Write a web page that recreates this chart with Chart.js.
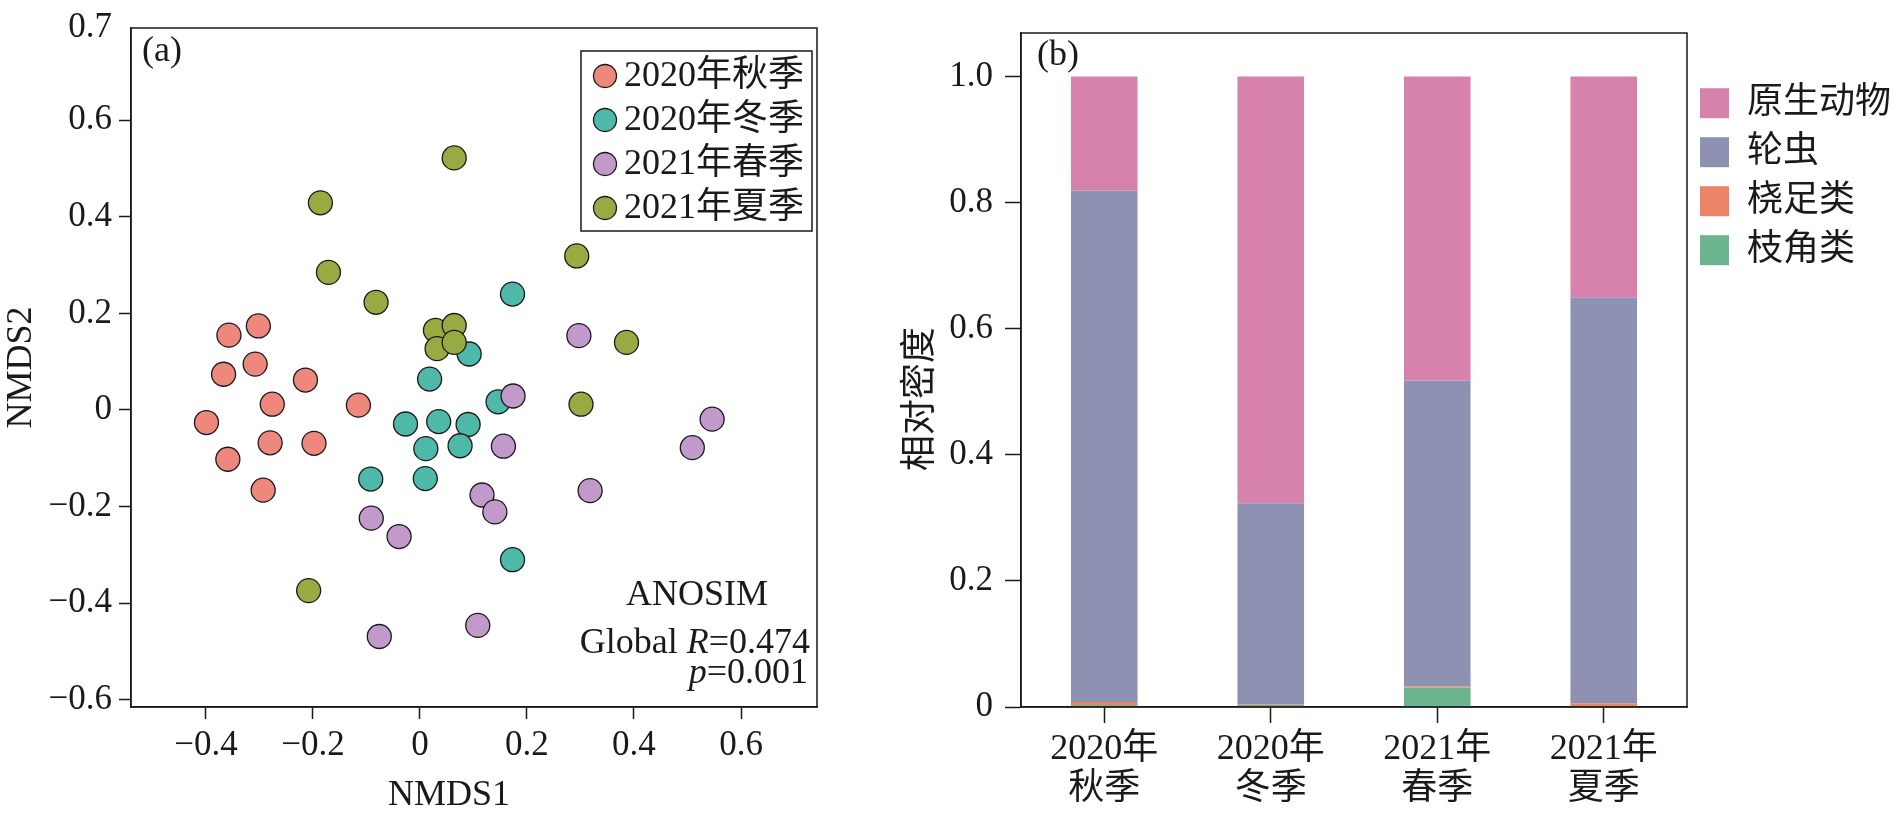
<!DOCTYPE html>
<html>
<head>
<meta charset="utf-8">
<script src="https://cdn.jsdelivr.net/npm/chart.js@4.4.1/dist/chart.umd.min.js"></script>
<style>
  html, body { margin: 0; padding: 0; background: #fff; }
  #wrap { position: relative; width: 1896px; height: 818px; }
  #left { position: absolute; left: 0; top: 0; }
  #right { position: absolute; left: 880px; top: 0; }
</style>
</head>
<body>
<div id="wrap">
  <canvas id="left" width="880" height="818"></canvas>
  <canvas id="right" width="1016" height="818"></canvas>
</div>
<script>
// ---- (a) NMDS scores, one pair of arrays per season ----
const seasons = ['2020年秋季', '2020年冬季', '2021年春季', '2021年夏季']
const seasonColors = ['#EE877C', '#4EB8A9', '#C19ACB', '#98AB42']

const autumn20X = [-0.357, -0.302, -0.367, -0.308, -0.214, -0.276, -0.115, -0.399, -0.359, -0.280, -0.198, -0.293]
const autumn20Y = [0.155, 0.174, 0.074, 0.095, 0.062, 0.012, 0.010, -0.026, -0.102, -0.068, -0.069, -0.166]
const winter20X = [0.173, 0.092, 0.018, 0.146, -0.027, 0.035, 0.090, 0.011, 0.075, -0.092, 0.010, 0.173]
const winter20Y = [0.240, 0.116, 0.064, 0.017, -0.029, -0.024, -0.030, -0.080, -0.074, -0.143, -0.142, -0.310]
const spring21X = [0.297, 0.174, 0.546, 0.509, 0.156, 0.318, 0.116, 0.140, -0.091, -0.039, 0.108, -0.076]
const spring21Y = [0.154, 0.029, -0.019, -0.078, -0.075, -0.167, -0.176, -0.211, -0.224, -0.262, -0.446, -0.469]
const summer21X = [0.064, -0.186, -0.171, -0.082, 0.293, 0.029, 0.064, 0.032, 0.064, 0.386, 0.301, -0.208]
const summer21Y = [0.522, 0.429, 0.285, 0.223, 0.319, 0.165, 0.175, 0.127, 0.140, 0.140, 0.012, -0.374]

const nmdsXTicks = [-0.4, -0.2, 0, 0.2, 0.4, 0.6]
const nmdsYTicks = [-0.6, -0.4, -0.2, 0, 0.2, 0.4, 0.6]
const nmdsYTopLabel = '0.7'
const nmdsXMin = -0.54, nmdsXMax = 0.742
const nmdsYMin = -0.615, nmdsYMax = 0.791

// ---- (b) relative density, stacked bottom -> top ----
const barCategories = [['2020年', '秋季'], ['2020年', '冬季'], ['2021年', '春季'], ['2021年', '夏季']]
const groupNames = ['枝角类', '桡足类', '轮虫', '原生动物']
const groupColors = ['#6CB48E', '#EC8568', '#8E91B2', '#D781AD']
const cladocera = [0.003, 0.003, 0.031, 0.001]
const copepoda = [0.005, 0.001, 0.002, 0.005]
const rotifera = [0.811, 0.319, 0.485, 0.643]
const protozoa = [0.181, 0.677, 0.482, 0.351]
const densityTicks = [0, 0.2, 0.4, 0.6, 0.8, 1.0]

const serif = "'Liberation Serif', 'Noto Sans CJK SC', serif"
const hei = "'Noto Sans CJK SC', sans-serif"
const ink = '#1a1a1a'

Chart.defaults.font.family = serif
Chart.defaults.color = ink

const signed = (v) => v === 0 ? '0' : (v < 0 ? '\u2212' : '') + Math.abs(v).toFixed(1)
const zip = (xs, ys) => xs.map((x, i) => ({ x: x, y: ys[i] }))

const frame = {
    id: 'frame',
    afterDraw(chart) {
        const { ctx, chartArea: a } = chart
        ctx.save()
        ctx.strokeStyle = ink
        ctx.lineWidth = 1.5
        ctx.strokeRect(a.left, a.top, a.right - a.left, a.bottom - a.top)
        ctx.restore()
    }
}

// draws pieces of text (some italic) ending at x
const drawRuns = (ctx, runs, rightX, y, size) => {
    let w = 0
    runs.forEach(r => {
        ctx.font = `${r[1] ? 'italic ' : ''}${size}px ${serif}`
        w += ctx.measureText(r[0]).width
    })
    let x = rightX - w
    runs.forEach(r => {
        ctx.font = `${r[1] ? 'italic ' : ''}${size}px ${serif}`
        ctx.fillText(r[0], x, y)
        x += ctx.measureText(r[0]).width
    })
}

const nmdsNotes = {
    id: 'nmdsNotes',
    afterDraw(chart) {
        const { ctx, chartArea: a } = chart
        ctx.save()
        ctx.fillStyle = ink
        ctx.textBaseline = 'alphabetic'
        ctx.font = `36px ${serif}`
        ctx.fillText('(a)', a.left + 11, 61)

        ctx.textAlign = 'center'
        ctx.fillText('ANOSIM', a.right - 120, 605)
        ctx.textBaseline = 'middle'
        ctx.fillText('NMDS1', 449, 796)
        ctx.textBaseline = 'alphabetic'
        ctx.textAlign = 'left'
        drawRuns(ctx, [['Global ', false], ['R', true], ['=0.474', false]], a.right - 7, 653, 36)
        drawRuns(ctx, [['p', true], ['=0.001', false]], a.right - 9, 683, 36)

        // legend box
        const bx = a.right - 236, by = a.top + 23
        ctx.fillStyle = '#fff'
        ctx.fillRect(bx, by, 231, 180)
        ctx.strokeStyle = ink
        ctx.lineWidth = 1.5
        ctx.strokeRect(bx, by, 231, 180)
        ctx.textBaseline = 'middle'
        ctx.font = `36px ${serif}`
        chart.data.datasets.forEach((ds, i) => {
            const cy = by + 25 + i * 44
            ctx.beginPath()
            ctx.arc(bx + 24, cy, 11.5, 0, Math.PI * 2)
            ctx.fillStyle = ds.backgroundColor
            ctx.fill()
            ctx.lineWidth = 1.3
            ctx.strokeStyle = ink
            ctx.stroke()
            ctx.fillStyle = ink
            ctx.fillText(ds.label, bx + 43, cy + 1)
        })
        ctx.restore()
    }
}

const barNotes = {
    id: 'barNotes',
    afterDraw(chart) {
        const { ctx, chartArea: a } = chart
        ctx.save()
        ctx.fillStyle = ink
        ctx.font = `36px ${serif}`
        ctx.fillText('(b)', a.left + 16, 65)
        // y axis title, sits a little below the middle like the original
        ctx.translate(37, 399)
        ctx.rotate(-Math.PI / 2)
        ctx.font = `36px ${hei}`
        ctx.textAlign = 'center'
        ctx.textBaseline = 'middle'
        ctx.fillText('相对密度', 0, 0)
        ctx.restore()
    }
}

const pointsX = [autumn20X, winter20X, spring21X, summer21X]
const pointsY = [autumn20Y, winter20Y, spring21Y, summer21Y]

new Chart(document.getElementById('left').getContext('2d'), {
    type: 'scatter',
    data: {
        datasets: seasons.map((s, i) => ({
            label: s,
            data: zip(pointsX[i], pointsY[i]),
            backgroundColor: seasonColors[i],
            borderColor: ink,
            borderWidth: 1.3,
            pointRadius: 12,
            order: seasons.length - i
        }))
    },
    options: {
        responsive: false,
        devicePixelRatio: 1,
        animation: false,
        layout: { padding: { top: 28, right: 63, bottom: 0, left: 0 } },
        plugins: { legend: { display: false }, tooltip: { enabled: false } },
        scales: {
            x: {
                type: 'linear',
                min: nmdsXMin,
                max: nmdsXMax,
                afterBuildTicks: (s) => { s.ticks = nmdsXTicks.map(v => ({ value: v })) },
                afterFit: (s) => { s.height = 111 },
                ticks: { font: { size: 35 }, padding: 6, callback: (v) => signed(v) },
                grid: { drawOnChartArea: false, tickLength: 12, tickColor: ink, tickWidth: 1.5 },
                border: { color: ink, width: 1.5 }
            },
            y: {
                type: 'linear',
                min: nmdsYMin,
                max: nmdsYMax,
                afterBuildTicks: (s) => { s.ticks = nmdsYTicks.concat([nmdsYMax]).map(v => ({ value: v })) },
                afterFit: (s) => { s.width = 131 },
                ticks: {
                    font: { size: 35 },
                    padding: 7,
                    callback: (v) => v === nmdsYMax ? nmdsYTopLabel : signed(v)
                },
                grid: {
                    drawOnChartArea: false,
                    tickLength: 12,
                    tickWidth: 1.5,
                    tickColor: (c) => c.tick && c.tick.value === nmdsYMax ? 'rgba(0,0,0,0)' : ink
                },
                border: { color: ink, width: 1.5 },
                title: { display: true, text: 'NMDS2', font: { size: 36 }, padding: 0 }
            }
        }
    },
    plugins: [frame, nmdsNotes]
})

const groupData = [cladocera, copepoda, rotifera, protozoa]

new Chart(document.getElementById('right').getContext('2d'), {
    type: 'bar',
    data: {
        labels: barCategories,
        datasets: groupNames.map((g, i) => ({
            label: g,
            data: groupData[i],
            backgroundColor: groupColors[i],
            borderWidth: 0,
            barPercentage: 0.4,
            categoryPercentage: 1
        }))
    },
    options: {
        responsive: false,
        devicePixelRatio: 1,
        animation: false,
        layout: { padding: { top: 28, right: 0, bottom: 0, left: 0 } },
        plugins: {
            tooltip: { enabled: false },
            legend: {
                position: 'right',
                align: 'start',
                reverse: true,
                maxWidth: 209,
                title: { display: true, text: '', font: { size: 1 }, padding: { top: 43, bottom: 0 } },
                labels: {
                    boxWidth: 29,
                    boxHeight: 30,
                    padding: 13,
                    color: ink,
                    font: { size: 36, family: serif }
                }
            }
        },
        scales: {
            x: {
                stacked: true,
                afterFit: (s) => { s.height = 111 },
                ticks: { font: { size: 36, lineHeight: 1.1 }, padding: 7, maxRotation: 0 },
                grid: { offset: false, drawOnChartArea: false, tickLength: 16, tickColor: ink, tickWidth: 1.5 },
                border: { color: ink, width: 1.5 }
            },
            y: {
                stacked: true,
                min: 0,
                max: 1.069,
                afterBuildTicks: (s) => { s.ticks = densityTicks.map(v => ({ value: v })) },
                afterFit: (s) => { s.width = 141 },
                ticks: { font: { size: 35 }, padding: 12, callback: (v) => v === 0 ? '0' : v.toFixed(1) },
                grid: { drawOnChartArea: false, tickLength: 16, tickColor: ink, tickWidth: 1.5 },
                border: { color: ink, width: 1.5 }
            }
        }
    },
    plugins: [frame, barNotes]
})
</script>
</body>
</html>
